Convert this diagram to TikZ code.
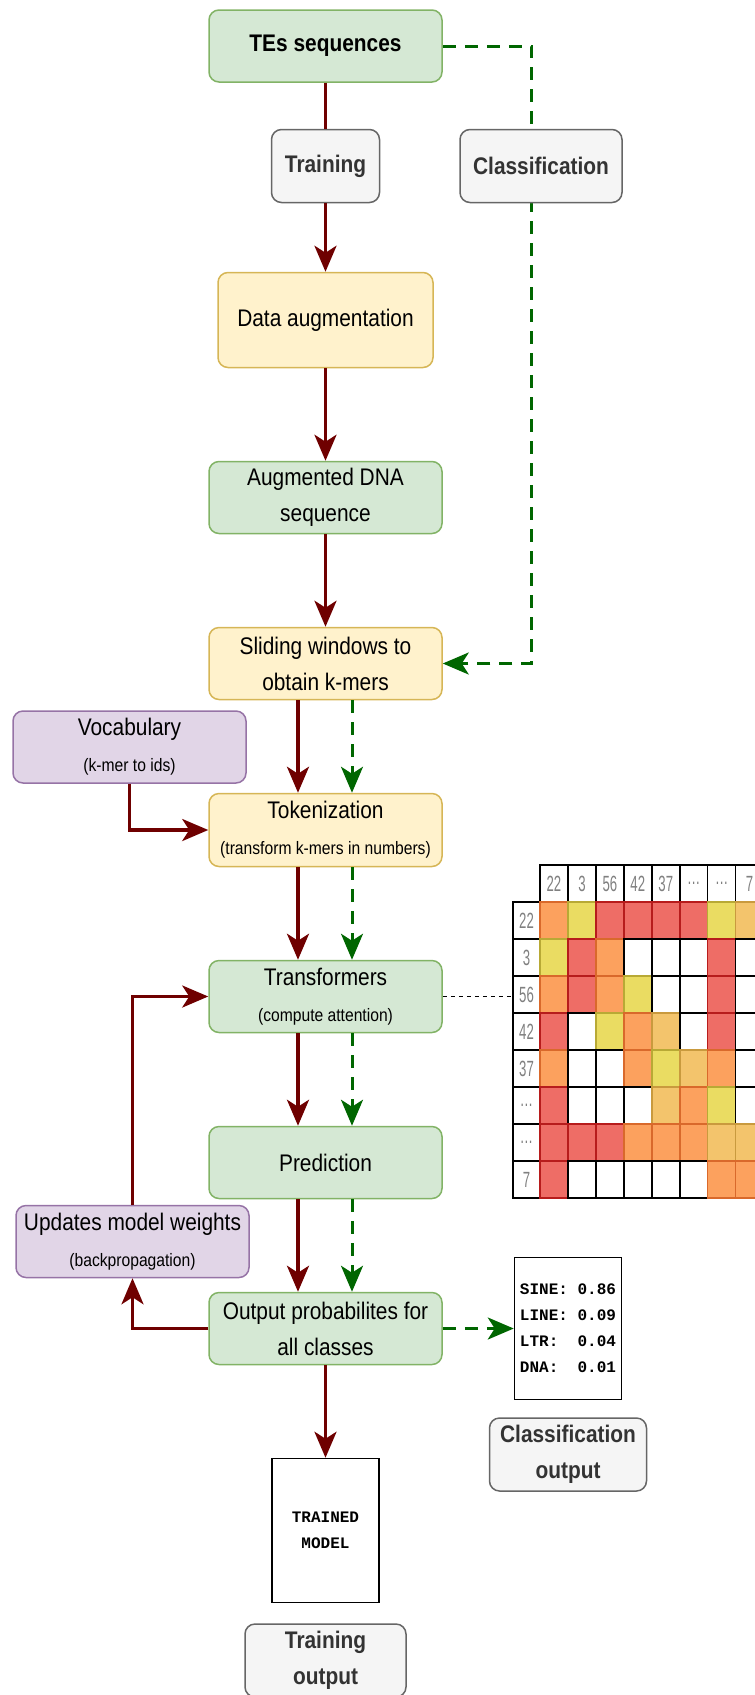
\documentclass[tikz,border=0pt]{standalone}
\usepackage{fontspec}
\setmainfont{Liberation Sans}[FakeStretch=0.87]
\setmonofont{Liberation Mono}
\newfontfamily\gridfont{Liberation Sans}[FakeStretch=0.6]
\usepackage{xcolor}
\usepackage{tikz}
\usetikzlibrary{arrows.meta,positioning,backgrounds}

\definecolor{boxgreen}{HTML}{D5E8D4}
\definecolor{linegreen}{HTML}{82B366}
\definecolor{boxyellow}{HTML}{FFF2CC}
\definecolor{lineyellow}{HTML}{D6B656}
\definecolor{boxpurple}{HTML}{E1D5E7}
\definecolor{linepurple}{HTML}{9673A6}
\definecolor{boxgray}{HTML}{F5F5F5}
\definecolor{linegray}{HTML}{666666}
\definecolor{textgray}{HTML}{333333}
\definecolor{gridgray}{HTML}{808080}
\definecolor{trainred}{HTML}{6F0000}
\definecolor{classgreen}{HTML}{006600}
% attention map colours (fill / border)
\definecolor{hmR}{HTML}{EE6D66}
\definecolor{hmO}{HTML}{FCA15E}
\definecolor{hmY}{HTML}{EADC62}
\definecolor{hmL}{HTML}{F3C46C}
\definecolor{hmW}{HTML}{FFFFFF}
\definecolor{hmbR}{HTML}{B71C1C}
\definecolor{hmbO}{HTML}{D9692B}
\definecolor{hmbY}{HTML}{B8A935}
\definecolor{hmbL}{HTML}{C99A3E}
\definecolor{hmbW}{HTML}{000000}

\newcommand\bigtxt{\fontsize{24}{36}\selectfont}
\newcommand\smalltxt{\fontsize{18}{36}\selectfont}
\newcommand\monotxt{\ttfamily\bfseries\fontsize{16}{26}\selectfont}

\begin{document}
\begin{tikzpicture}[
    x=1pt, y=-1pt,
    node distance=92.5pt,
    box/.style={draw, rounded corners=10pt, line width=1.5pt, minimum width=233pt, minimum height=72pt, align=center, inner sep=2pt, font=\bigtxt},
    gbox/.style={box, fill=boxgreen, draw=linegreen},
    ybox/.style={box, fill=boxyellow, draw=lineyellow},
    pbox/.style={box, fill=boxpurple, draw=linepurple},
    lbl/.style={box, fill=boxgray, draw=linegray, text=textgray, minimum height=73pt, font=\bigtxt\bfseries},
    outbox/.style={draw, line width=1.5pt, fill=white, minimum width=107pt, minimum height=144pt, align=left, font=\monotxt},
    hcell/.style={draw, line width=1.5pt, minimum width=27.95pt, minimum height=37pt, inner sep=0pt, outer sep=0pt, anchor=north west, font=\gridfont\fontsize{22}{22}\selectfont, text=gridgray},
    trainline/.style={draw=trainred, line width=3.5pt},
    trainarrow/.style={trainline, -{Stealth[length=26pt, width=22pt, inset=7pt]}},
    classarrow/.style={draw=classgreen, line width=3pt, dash pattern=on 13pt off 9pt, -{Stealth[length=26pt, width=22pt, inset=7pt]}},
    attlink/.style={draw, line width=1.5pt, dash pattern=on 4pt off 4pt}
]
\clip (0,0) rectangle (755,1695);

\node[gbox, font=\bigtxt\bfseries] (tes) at (325.5,46) {TEs sequences};
\node[lbl, minimum width=108pt, below=46pt of tes] (train) {Training};
\node[lbl, minimum width=162pt, right=79pt of train] (classif) {Classification};
\node[ybox, minimum width=215pt, minimum height=95pt, below=68.5pt of train] (aug) {Data augmentation};
\node[gbox, below=of aug] (dna) {Augmented DNA\\sequence};
\node[ybox, below=of dna] (slide) {Sliding windows to\\obtain k-mers};
\node[ybox, minimum height=73pt, below=of slide] (token) {Tokenization\\{\smalltxt(transform k-mers in numbers)}};
\node[gbox, below=of token] (trans) {Transformers\\{\smalltxt(compute attention)}};
\node[gbox, below=of trans] (pred) {Prediction};
\node[gbox, below=of pred] (out) {Output probabilites for\\all classes};
\node[outbox, align=center, below=of out] (model) {TRAINED\\MODEL};
\node[lbl, minimum width=161pt, below=20pt of model] (trainout) {Training\\output};

\node[pbox] (vocab) at (129.5,747) {Vocabulary\\{\smalltxt(k-mer to ids)}};
\node[pbox] (upd) at (132.5,1241.5) {Updates model weights\\{\smalltxt(backpropagation)}};
\node[outbox, minimum height=142pt, right=71pt of out] (result) {SINE:~0.86\\LINE:~0.09\\LTR:~~0.04\\DNA:~~0.01};
\node[lbl, minimum width=157pt, below=17pt of result] (resout) {Classification\\output};

% attention map
\foreach \lab [count=\j] in {22,3,56,42,37,\ldots,\ldots,7} {
  \node[hcell] (cl-\j) at ({540+27.95*(\j-1)},865) {\lab};
  \node[hcell, minimum width=27pt] (rl-\j) at (513,{902+37*(\j-1)}) {\lab};
}
\foreach \row [count=\i] in {{O,Y,R,R,R,R,Y,L},{Y,R,O,W,W,W,R,W},{O,R,O,Y,W,W,R,W},{R,W,Y,O,L,W,R,W},{O,W,W,O,Y,L,O,W},{R,W,W,W,L,O,Y,W},{R,R,R,O,O,O,L,L},{R,W,W,W,W,W,O,O}}
  \foreach \c [count=\j] in \row
    \node[hcell, fill=hm\c, draw=hmb\c] (h-\i-\j) at ({540+27.95*(\j-1)},{902+37*(\i-1)}) {};

\begin{scope}[on background layer]
\draw[classarrow] (tes.east) -- ++(89,0) |- (slide.east);
\end{scope}

\draw[trainline] (tes) -- (train);
\draw[trainarrow] (train) -- (aug);
\draw[trainarrow] (aug) -- (dna);
\draw[trainarrow] (dna) -- (slide);
\draw[trainarrow] ([xshift=-27.5pt]slide.south) -- ([xshift=-27.5pt]token.north);
\draw[trainarrow] ([xshift=-27.5pt]token.south) -- ([xshift=-27.5pt]trans.north);
\draw[trainarrow] ([xshift=-27.5pt]trans.south) -- ([xshift=-27.5pt]pred.north);
\draw[trainarrow] ([xshift=-27.5pt]pred.south) -- ([xshift=-27.5pt]out.north);
\draw[trainarrow] (out) -- (model);
\draw[trainarrow] (vocab.south) |- (token.west);
\draw[trainarrow] (out.west) -| (upd.south);
\draw[trainarrow] (upd.north) |- (trans.west);

\draw[classarrow] ([xshift=26.5pt]slide.south) -- ([xshift=26.5pt]token.north);
\draw[classarrow] ([xshift=26.5pt]token.south) -- ([xshift=26.5pt]trans.north);
\draw[classarrow] ([xshift=26.5pt]trans.south) -- ([xshift=26.5pt]pred.north);
\draw[classarrow] ([xshift=26.5pt]pred.south) -- ([xshift=26.5pt]out.north);
\draw[classarrow] (out.east) -- (result.west);

\draw[attlink] (trans.east) -- (rl-3.west |- trans.east);
\end{tikzpicture}
\end{document}
